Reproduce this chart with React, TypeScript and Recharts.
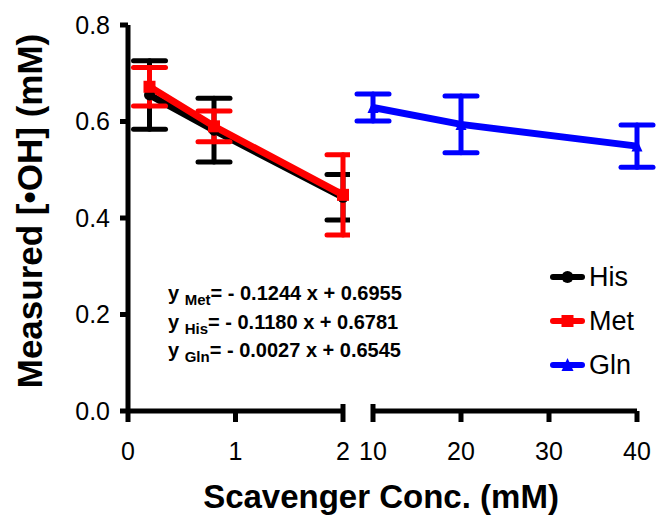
import { LineChart, Line, XAxis, YAxis, ErrorBar, Legend } from 'recharts'

// left segment of the broken axis (0-2 mM), right segment (10-40 mM)
const lowConc = [0.2, 0.8, 2]
const hisMean = [0.655, 0.582, 0.443]
const hisSd = [0.071, 0.066, 0.047]
const metMean = [0.672, 0.59, 0.448]
const metSd = [0.04, 0.032, 0.083]

const highConc = [10, 20, 40]
const glnMean = [0.629, 0.594, 0.549]
const glnSd = [0.028, 0.059, 0.044]

const leftTicks = [0, 1, 2]
const rightTicks = [10, 20, 30, 40]
const yTicks = [0, 0.2, 0.4, 0.6, 0.8]
const breakTicks = [2, 10]

const legendItems = [
  { name: 'His', color: '#000000', shape: 'circle' },
  { name: 'Met', color: '#ff0000', shape: 'square' },
  { name: 'Gln', color: '#0000ff', shape: 'triangle' },
]

const equations = [
  { sub: 'Met', slope: '- 0.1244', intercept: '0.6955' },
  { sub: 'His', slope: '- 0.1180', intercept: '0.6781' },
  { sub: 'Gln', slope: '- 0.0027', intercept: '0.6545' },
]

const leftData = lowConc.map((x, i) => ({
  x, his: hisMean[i], hisErr: hisSd[i], met: metMean[i], metErr: metSd[i],
}))
const rightData = highConc.map((x, i) => ({ x, gln: glnMean[i], glnErr: glnSd[i] }))

const FONT = '"Liberation Sans", Arial, sans-serif'
const X_TICK_SIZE = 11
const X_TICK_MARGIN = 20

function Marker({ cx, cy, shape, color, size }: any) {
  if (cx == null || cy == null) return null
  const h = size / 2
  if (shape === 'circle') return <circle cx={cx} cy={cy} r={h} fill={color} />
  if (shape === 'square') return <rect x={cx - h} y={cy - h} width={size} height={size} fill={color} />
  return <polygon points={`${cx},${cy - h - 1} ${cx + h},${cy + h} ${cx - h},${cy + h}`} fill={color} />
}

function XTick({ x, y, payload }: any) {
  const axisY = y - X_TICK_SIZE - X_TICK_MARGIN
  const up = breakTicks.includes(payload.value) ? 7 : 0
  return (
    <g>
      <line x1={x} x2={x} y1={axisY - up} y2={axisY + X_TICK_SIZE} stroke="#000" strokeWidth={5} />
      <text x={x} y={y} dy="0.71em" textAnchor="middle" fontSize={25} fontFamily={FONT} fill="#000">
        {payload.value}
      </text>
    </g>
  )
}

function YTitle({ viewBox }: any) {
  const x = viewBox.x + 42
  const y = viewBox.y + viewBox.height / 2 - 7
  return (
    <text x={x} y={y} transform={`rotate(-90 ${x} ${y})`} textAnchor="middle"
      fontSize={35} fontWeight="bold" fontFamily={FONT} fill="#000">
      Measured [•OH] (mM)
    </text>
  )
}

function LegendBox() {
  return (
    <div style={{ fontFamily: FONT }}>
      {legendItems.map((it) => (
        <div key={it.name} style={{ display: 'flex', alignItems: 'center', height: 44 }}>
          <svg width={36} height={20}>
            <line x1={3} x2={32} y1={10} y2={10} stroke={it.color} strokeWidth={6} strokeLinecap="round" />
            <Marker cx={17.5} cy={10} shape={it.shape} color={it.color} size={12} />
          </svg>
          <span style={{ fontSize: 27, marginLeft: 3, color: '#000' }}>{it.name}</span>
        </div>
      ))}
    </div>
  )
}

const axisLine = { stroke: '#000', strokeWidth: 5 }

export default function App() {
  return (
    <div style={{ position: 'absolute', left: 0, top: 0, width: 656, height: 515, background: '#fff' }}>
      <div style={{ position: 'absolute', left: 0, top: 0 }}>
        <LineChart width={350} height={515} data={leftData} margin={{ top: 25, right: 7, left: 0, bottom: 0 }}>
          <XAxis type="number" dataKey="x" domain={[0, 2]} ticks={leftTicks} axisLine={axisLine}
            tickLine={false} tickSize={X_TICK_SIZE} tickMargin={X_TICK_MARGIN} tick={<XTick />} height={104} />
          <YAxis type="number" domain={[0, 0.8]} ticks={yTicks} width={128} axisLine={axisLine}
            tickLine={{ stroke: '#000', strokeWidth: 5 }} tickSize={8} tickMargin={10}
            tickFormatter={(v: number) => v.toFixed(1)}
            tick={{ fontSize: 25, fontFamily: FONT, fill: '#000' }}
            label={{ content: (p: any) => <YTitle {...p} /> }} />
          <Line dataKey="his" stroke="#000" strokeWidth={7} isAnimationActive={false}
            dot={(p: any) => <Marker key={`h${p.index}`} cx={p.cx} cy={p.cy} shape="circle" color="#000" size={11} />}>
            <ErrorBar dataKey="hisErr" direction="y" width={16} stroke="#000" strokeWidth={5} strokeLinecap="round" />
          </Line>
          <Line dataKey="met" stroke="#ff0000" strokeWidth={7} isAnimationActive={false}
            dot={(p: any) => <Marker key={`m${p.index}`} cx={p.cx} cy={p.cy} shape="square" color="#ff0000" size={12} />}>
            <ErrorBar dataKey="metErr" direction="y" width={16} stroke="#ff0000" strokeWidth={5} strokeLinecap="round" />
          </Line>
        </LineChart>
      </div>
      <div style={{ position: 'absolute', left: 0, top: 0 }}>
        <LineChart width={656} height={515} data={rightData} margin={{ top: 25, right: 19, left: 373, bottom: 0 }}>
          <XAxis type="number" dataKey="x" domain={[10, 40]} ticks={rightTicks} axisLine={axisLine}
            tickLine={false} tickSize={X_TICK_SIZE} tickMargin={X_TICK_MARGIN} tick={<XTick />} height={104} />
          <YAxis type="number" domain={[0, 0.8]} hide />
          <Line dataKey="gln" stroke="#0000ff" strokeWidth={7} isAnimationActive={false}
            dot={(p: any) => <Marker key={`g${p.index}`} cx={p.cx} cy={p.cy} shape="triangle" color="#0000ff" size={11} />}>
            <ErrorBar dataKey="glnErr" direction="y" width={16} stroke="#0000ff" strokeWidth={5} strokeLinecap="round" />
          </Line>
          <Legend layout="horizontal" verticalAlign="middle" align="center" content={<LegendBox />}
            wrapperStyle={{ left: 550, top: 255, width: 110 }} />
        </LineChart>
      </div>
      <svg width={656} height={515} style={{ position: 'absolute', left: 0, top: 0, pointerEvents: 'none' }}>
        {equations.map((e, i) => (
          <text key={e.sub} x={168} y={300 + i * 28.5} fontSize={20} fontWeight="bold" fontFamily={FONT} fill="#000">
            y <tspan fontSize={15} dy={5}>{e.sub}</tspan>
            <tspan dy={-5}>= {e.slope} x + {e.intercept}</tspan>
          </text>
        ))}
        <text x={381} y={508} textAnchor="middle" fontSize={33} fontWeight="bold" fontFamily={FONT} fill="#000">
          Scavenger Conc. (mM)
        </text>
      </svg>
    </div>
  )
}
